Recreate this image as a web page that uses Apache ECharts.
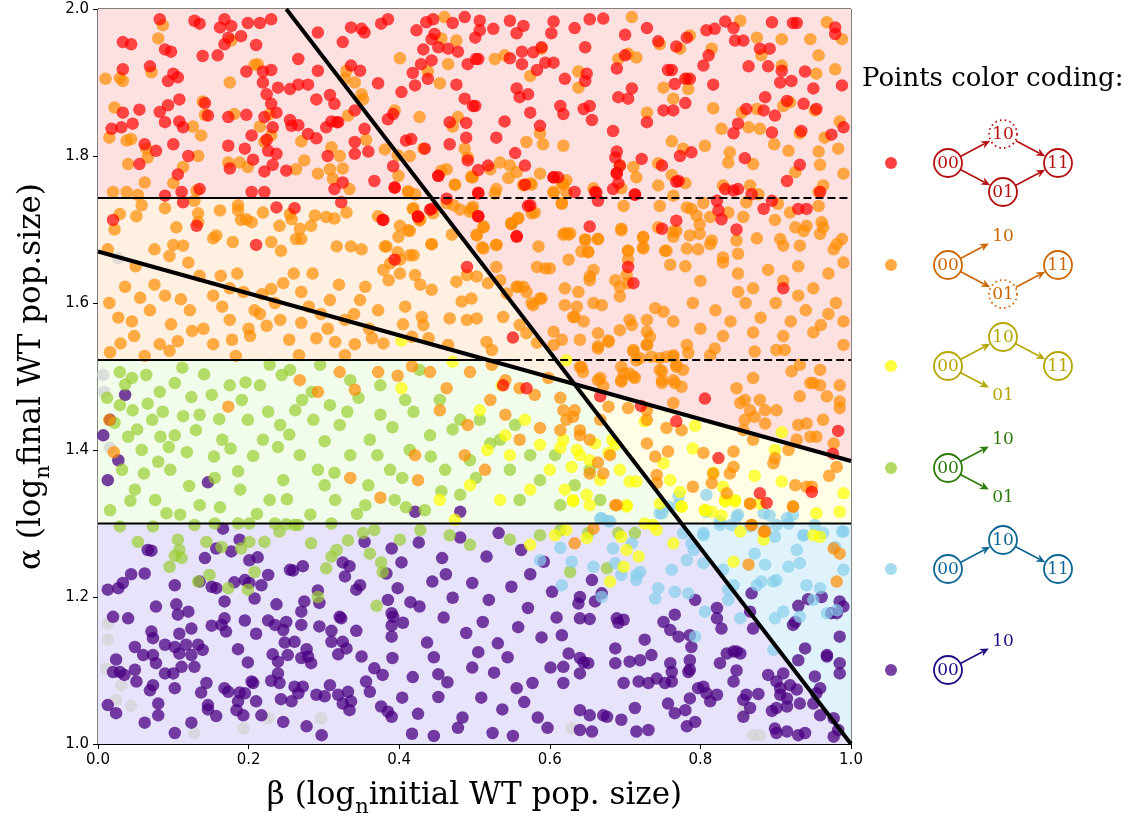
<!DOCTYPE html>
<html><head><meta charset="utf-8">
<script src="https://cdn.jsdelivr.net/npm/echarts@6/dist/echarts.min.js"></script>
<style>html,body{margin:0;padding:0;background:#fff}#c{width:1137px;height:816px}</style>
</head><body><div id="c"></div>
<script>
const xTicks=[0,0.2,0.4,0.6,0.8,1.0];
const yTicks=[1.0,1.2,1.4,1.6,1.8,2.0];
const xTitle='β (log|n|initial WT pop. size)';
const yTitle='α (log|n|final WT pop.size)';
const legendTitle='Points color coding:';

// boundary lines (β, α)
const steepLine=[[0.25,2.0],[1.0,1.0]];
const shallowLine=[[0,1.67],[1,1.385]];
const upperSolid=[[0,1.743],[0.4428,1.743]];
const upperDashed=[[0.4428,1.743],[1,1.743]];
const midSolid=[[0,1.5224],[0.55,1.5224]];
const midDashed=[[0.55,1.5224],[1,1.5224]];
const lowLine=[[0,1.3],[1,1.3]];

// shaded regions
const regPink=[[0,2],[1,2],[1,1.385],[0.6328,1.4897],[0.4428,1.743],[0,1.743]];
const regPeach=[[0,1.743],[0.4428,1.743],[0.6328,1.4897],[0.518,1.5224],[0,1.5224]];
const regGreen=[[0,1.5224],[0.518,1.5224],[0.6328,1.4897],[0.775,1.3],[0,1.3]];
const regYellow=[[0.6328,1.4897],[1,1.385],[1,1.3],[0.775,1.3]];
const regLav=[[0,1.3],[0.775,1.3],[1,1],[0,1]];
const regBlue=[[0.775,1.3],[1,1.3],[1,1]];

const redPts=[[.082,1.986],[.128,1.984],[.135,1.980],[.168,1.986],[.162,1.975],[.177,1.977],[.199,1.981],[.215,1.981],[.230,1.986],[.033,1.955],[.044,1.952],[.089,1.945],[.097,1.942],[.173,1.961],[.168,1.952],[.190,1.963],[.210,1.951],[.139,1.936],[.159,1.937],[.266,1.932],[.033,1.918],[.069,1.922],[.093,1.902],[.100,1.912],[.106,1.907],[.197,1.915],[.219,1.915],[.230,1.917],[.219,1.900],[.239,1.893],[.255,1.891],[.266,1.897],[.279,1.897],[.292,1.916],[.224,1.884],[.290,1.877],[.308,1.883],[.314,1.871],[.108,1.877],[.093,1.869],[.142,1.872],[.055,1.863],[.033,1.859],[.082,1.860],[.089,1.846],[.108,1.847],[.113,1.839],[.146,1.855],[.173,1.853],[.197,1.856],[.221,1.853],[.237,1.859],[.230,1.871],[.255,1.849],[.257,1.841],[.266,1.842],[.232,1.839],[.018,1.837],[.031,1.839],[.046,1.844],[.204,1.828],[.224,1.822],[.226,1.807],[.237,1.803],[.173,1.814],[.195,1.810],[.062,1.816],[.077,1.807],[.100,1.816],[.120,1.800],[.055,1.789],[.206,1.795],[.232,1.788],[.175,1.783],[.221,1.779],[.250,1.780],[.279,1.830],[.290,1.824],[.305,1.800],[.317,1.846],[.303,1.839],[.106,1.775],[.111,1.751],[.135,1.755],[.089,1.746],[.204,1.751],[.221,1.751],[.325,1.764],[.314,1.755],[.354,1.837],[.341,1.862],[.341,1.819],[.341,1.803],[.359,1.806],[.367,1.766],[.392,1.786],[.394,1.757],[.409,1.821],[.416,1.823],[.434,1.810],[.452,1.773],[.372,1.899],[.403,1.887],[.421,1.896],[.418,1.913],[.429,1.925],[.443,1.930],[.438,1.905],[.476,1.897],[.487,1.878],[.498,1.868],[.467,1.846],[.489,1.845],[.489,1.825],[.467,1.816],[.491,1.794],[.292,1.968],[.325,1.955],[.336,1.923],[.348,1.916],[.336,1.975],[.350,1.973],[.354,1.968],[.376,1.980],[.385,1.986],[.423,1.971],[.436,1.982],[.445,1.986],[.447,1.966],[.443,1.959],[.452,1.948],[.465,1.946],[.478,1.942],[.487,1.989],[.471,1.981],[.432,1.945],[.502,1.932],[.491,1.925],[.310,1.847],[.319,1.846],[.392,1.857],[.385,1.850],
[.020,1.713],[.131,1.705],[.113,1.737],[.237,1.730],[.261,1.729],[.378,1.713],[.425,1.718],[.443,1.728],[.323,1.737],[.210,1.679],
[.507,1.984],[.507,1.971],[.501,1.961],[.525,1.973],[.547,1.984],[.565,1.977],[.556,1.967],[.605,1.983],[.602,1.967],[.633,1.974],[.653,1.986],[.671,1.987],[.700,1.965],[.729,1.974],[.744,1.956],[.768,1.949],[.782,1.961],[.808,1.971],[.819,1.973],[.833,1.983],[.844,1.974],[.846,1.957],[.857,1.957],[.895,1.982],[.923,1.981],[.928,1.981],[.979,1.975],[.979,1.966],[.505,1.932],[.563,1.942],[.547,1.933],[.563,1.925],[.578,1.941],[.589,1.948],[.594,1.927],[.605,1.927],[.583,1.917],[.647,1.948],[.700,1.937],[.689,1.919],[.620,1.905],[.647,1.902],[.649,1.912],[.556,1.892],[.571,1.884],[.560,1.880],[.691,1.880],[.704,1.878],[.709,1.892],[.757,1.917],[.762,1.917],[.780,1.905],[.786,1.905],[.766,1.898],[.817,1.897],[.804,1.923],[.811,1.937],[.864,1.922],[.879,1.946],[.892,1.946],[.890,1.922],[.908,1.916],[.906,1.900],[.921,1.902],[.939,1.915],[.950,1.892],[.988,1.896],[.501,1.868],[.614,1.868],[.618,1.857],[.645,1.864],[.653,1.868],[.656,1.849],[.574,1.859],[.540,1.847],[.587,1.841],[.751,1.862],[.764,1.862],[.780,1.872],[.729,1.846],[.886,1.880],[.884,1.862],[.899,1.855],[.915,1.875],[.937,1.871],[.954,1.864],[.861,1.864],[.850,1.844],[.844,1.831],[.895,1.832],[.934,1.834],[.974,1.829],[.990,1.839],[.684,1.834],[.529,1.825],[.554,1.804],[.518,1.787],[.505,1.781],[.567,1.787],[.689,1.806],[.687,1.798],[.693,1.787],[.689,1.777],[.691,1.763],[.684,1.755],[.722,1.796],[.749,1.787],[.773,1.800],[.788,1.805],[.713,1.747],[.771,1.766],[.859,1.797],[.932,1.788],[.915,1.766],[.605,1.771],[.611,1.771],[.633,1.751],[.660,1.751],[.664,1.739],[.505,1.750],[.833,1.755],[.844,1.753],[.850,1.755],[.868,1.748],[.895,1.739],[.884,1.728],[.822,1.739],[.824,1.726],[.828,1.714],[.930,1.728],[.941,1.728],[.959,1.751],[.571,1.732],[.505,1.718],[.768,1.712],[.749,1.701],[.848,1.700],[.653,1.704],[.556,1.691],
[.452,1.773],[.394,1.757],[.505,1.749],[.463,1.742],[.567,1.761],[.605,1.771],[.662,1.750],[.689,1.776],[.713,1.748],[.768,1.765],[.574,1.733],[.505,1.718],[.556,1.690],[.704,1.649],[.711,1.627],[.490,1.649],[.394,1.659],[.441,1.727],[.425,1.717],[.379,1.713],[.551,1.553],[.569,1.484],[.538,1.488],
[.806,1.470],[.768,1.439],[.667,1.473],[.721,1.460],[.824,1.389],[.976,1.395],[.879,1.341],[.888,1.328],[.948,1.343],[.910,1.620],[.983,1.426]];

const orangePts=[[.086,1.978],[.080,1.960],[.177,1.957],[.010,1.905],[.029,1.906],[.033,1.902],[.071,1.914],[.175,1.900],[.212,1.925],[.208,1.924],[.022,1.866],[.015,1.825],[.038,1.821],[.044,1.823],[.064,1.810],[.066,1.798],[.040,1.789],[.126,1.840],[.137,1.828],[.139,1.874],[.142,1.856],[.181,1.857],[.215,1.840],[.228,1.857],[.230,1.828],[.221,1.819],[.270,1.820],[.310,1.812],[.321,1.800],[.173,1.791],[.188,1.791],[.199,1.785],[.263,1.782],[.274,1.794],[.292,1.776],[.308,1.782],[.325,1.783],[.312,1.769],[.334,1.755],[.062,1.764],[.100,1.763],[.113,1.785],[.133,1.800],[.020,1.751],[.038,1.751],[.053,1.747],[.131,1.753],[.330,1.916],[.328,1.905],[.341,1.900],[.350,1.884],[.352,1.877],[.332,1.855],[.356,1.822],[.381,1.809],[.398,1.801],[.414,1.800],[.432,1.810],[.401,1.933],[.427,1.853],[.454,1.899],[.465,1.925],[.476,1.957],[.460,1.989],[.456,1.960],[.438,1.915],[.478,1.853],[.471,1.840],[.487,1.810],[.491,1.798],[.496,1.771],[.474,1.761],[.463,1.782],[.456,1.780],[.412,1.751],[.421,1.748],[.394,1.862],
[.709,1.989],[.853,1.984],[.968,1.982],[.988,1.959],[.946,1.959],[.908,1.959],[.875,1.961],[.881,1.937],[.908,1.923],[.957,1.937],[.979,1.918],[.954,1.912],[.786,1.964],[.746,1.952],[.773,1.946],[.815,1.946],[.704,1.939],[.691,1.932],[.715,1.934],[.589,1.946],[.527,1.932],[.540,1.937],[.574,1.909],[.638,1.915],[.638,1.893],[.751,1.893],[.782,1.905],[.784,1.891],[.764,1.878],[.729,1.859],[.817,1.865],[.855,1.859],[.875,1.864],[.910,1.868],[.919,1.873],[.952,1.862],[.985,1.847],[.828,1.837],[.864,1.839],[.879,1.837],[.932,1.831],[.965,1.825],[.983,1.810],[.990,1.776],[.957,1.806],[.959,1.788],[.926,1.778],[.917,1.807],[.898,1.816],[.870,1.789],[.839,1.805],[.837,1.791],[.806,1.814],[.777,1.810],[.762,1.820],[.744,1.790],[.762,1.774],[.780,1.763],[.711,1.785],[.715,1.771],[.693,1.787],[.695,1.756],[.658,1.756],[.618,1.762],[.605,1.751],[.622,1.751],[.576,1.761],[.565,1.760],[.556,1.778],[.547,1.787],[.534,1.791],[.521,1.782],[.498,1.771],[.529,1.755],[.569,1.819],[.591,1.816],[.587,1.831],[.618,1.814],[.830,1.760],[.866,1.760],[.877,1.748],[.963,1.760],[.957,1.751],[.744,1.760],[.764,1.746],
[.496,1.728],[.512,1.703],[.503,1.692],[.510,1.676],[.529,1.679],[.549,1.707],[.558,1.715],[.580,1.723],[.616,1.735],[.618,1.693],[.625,1.693],[.647,1.686],[.664,1.687],[.651,1.669],[.698,1.732],[.695,1.701],[.704,1.671],[.724,1.689],[.724,1.676],[.746,1.732],[.744,1.703],[.755,1.671],[.768,1.698],[.782,1.730],[.788,1.728],[.795,1.719],[.799,1.707],[.799,1.694],[.786,1.692],[.782,1.674],[.797,1.673],[.804,1.736],[.813,1.717],[.815,1.685],[.813,1.680],[.837,1.723],[.848,1.685],[.850,1.667],[.830,1.662],[.875,1.688],[.899,1.713],[.903,1.735],[.906,1.687],[.910,1.678],[.919,1.723],[.926,1.703],[.937,1.698],[.932,1.678],[.941,1.705],[.957,1.732],[.961,1.710],[.959,1.694],[.963,1.703],[.977,1.673],[.988,1.687],[.981,1.680],[.861,1.737],[.857,1.717],
[.029,1.721],[.022,1.700],[.051,1.718],[.058,1.733],[.089,1.729],[.104,1.703],[.128,1.739],[.133,1.722],[.133,1.710],[.153,1.688],[.162,1.726],[.179,1.683],[.186,1.733],[.186,1.726],[.190,1.713],[.204,1.710],[.197,1.714],[.219,1.723],[.230,1.683],[.241,1.705],[.255,1.721],[.257,1.714],[.268,1.701],[.283,1.705],[.263,1.687],[.270,1.687],[.288,1.719],[.303,1.717],[.314,1.715],[.330,1.723],[.075,1.673],[.100,1.679],[.113,1.678],[.095,1.664],[.157,1.692],[.243,1.671],[.317,1.677],[.336,1.677],[.350,1.673],[.381,1.677],[.398,1.669],[.414,1.698],[.427,1.712],[.418,1.728],[.401,1.705],[.372,1.718],[.443,1.680],[.013,1.673],
[.379,1.645],[.386,1.631],[.401,1.640],[.421,1.638],[.428,1.625],[.443,1.618],[.476,1.629],[.496,1.606],[.518,1.627],[.529,1.649],[.534,1.631],[.543,1.613],[.503,1.636],[.490,1.638],[.483,1.602],[.467,1.579],[.430,1.581],[.432,1.570],[.408,1.595],[.405,1.571],[.379,1.545],[.417,1.554],[.439,1.552],[.465,1.543],[.490,1.577],[.503,1.579],[.516,1.547],[.523,1.536],[.538,1.581],[.560,1.570],[.569,1.559],[.583,1.546],[.589,1.606],[.576,1.600],[.558,1.622],[.565,1.622],[.569,1.615],[.399,1.690],[.412,1.699],[.383,1.677],[.414,1.665],[.419,1.665],[.443,1.680],[.470,1.693],[.503,1.693],[.512,1.704],[.529,1.679],[.512,1.674],[.401,1.659],[.388,1.654],[.494,1.724],[.481,1.727],[.463,1.736],[.472,1.733],[.419,1.729],[.412,1.752],[.399,1.773],[.428,1.714],[.445,1.722],[.558,1.716],[.549,1.709],
[.583,1.649],[.594,1.647],[.600,1.647],[.585,1.677],[.556,1.622],[.578,1.597],[.587,1.606],[.620,1.620],[.620,1.597],[.638,1.615],[.636,1.595],[.645,1.575],[.631,1.581],[.605,1.561],[.616,1.550],[.640,1.550],[.664,1.559],[.664,1.541],[.678,1.549],[.693,1.563],[.658,1.600],[.669,1.597],[.687,1.631],[.693,1.622],[.693,1.609],[.702,1.638],[.704,1.659],[.704,1.671],[.724,1.674],[.724,1.690],[.753,1.671],[.764,1.690],[.760,1.652],[.764,1.697],[.740,1.593],[.751,1.588],[.729,1.577],[.706,1.577],[.709,1.570],[.729,1.561],[.733,1.554],[.729,1.543],[.711,1.534],[.715,1.522],[.746,1.525],[.755,1.527],[.764,1.529],[.764,1.575],[.620,1.695],[.627,1.695],[.647,1.686],[.664,1.687],[.651,1.670],[.658,1.645],[.653,1.636],[.653,1.631],[.695,1.699],[.704,1.627],[.625,1.659],[.642,1.670],[.633,1.581],[.746,1.509],[.749,1.491],[.768,1.513],[.764,1.495],[.711,1.500],[.695,1.493],[.664,1.495],[.642,1.513],[.605,1.543],
[.587,1.776],[.616,1.763],[.622,1.767],[.605,1.750],[.616,1.736],[.574,1.763],[.565,1.761],[.576,1.722],[.549,1.708],[.545,1.770],[.527,1.749],[.496,1.772],[.498,1.731],[.474,1.761],
[.640,1.513],[.664,1.538],[.678,1.547],[.711,1.536],[.720,1.525],[.735,1.527],[.729,1.543],[.764,1.527],[.768,1.516],[.777,1.509],[.784,1.532],[.782,1.543],[.813,1.529],[.819,1.538],[.872,1.534],[.901,1.536],[.912,1.536],[.932,1.516],[.921,1.507],[.959,1.509],[.990,1.543],[.695,1.513],[.698,1.504],[.706,1.504],[.713,1.498],[.695,1.495],[.667,1.498],[.671,1.487],[.749,1.507],[.749,1.495],[.766,1.491],[.775,1.486],[.848,1.484],[.870,1.498],[.853,1.464],[.859,1.468],[.866,1.454],[.879,1.468],[.886,1.454],[.901,1.454],[.872,1.445],[.859,1.441],[.886,1.436],[.932,1.473],[.950,1.491],[.959,1.488],[.946,1.491],[.985,1.488],[.968,1.473],[.985,1.466],[.985,1.457],[.930,1.434],[.941,1.436],[.963,1.441],[.954,1.418],[.946,1.418],[.977,1.409],[.928,1.414],[.764,1.464],[.729,1.454],
[.618,1.454],[.622,1.441],[.631,1.445],[.640,1.427],[.640,1.420],[.678,1.459],[.704,1.457],[.729,1.441],[.755,1.430],[.775,1.427],[.729,1.409],[.740,1.391],[.757,1.398],[.804,1.396],[.844,1.398],[.844,1.377],[.839,1.368],[.817,1.368],[.897,1.382],[.899,1.389],[.917,1.400],[.870,1.414],[.857,1.427],[.653,1.368],[.664,1.383],[.671,1.368],[.687,1.325],[.742,1.366],[.742,1.355],[.790,1.350],[.815,1.355],[.835,1.341],[.866,1.327],[.923,1.323],[.926,1.352],[.941,1.350],[.948,1.350],[.971,1.365],[.981,1.377],[.868,1.298],[.884,1.289],
[.633,1.273],[.658,1.293],[.868,1.298],[.886,1.289],[.864,1.244],[.977,1.266],[.985,1.259],[.981,1.221],[.923,1.323],[.866,1.327],[.689,1.325],
[.036,1.622],[.056,1.607],[.027,1.580],[.069,1.590],[.089,1.610],[.097,1.571],[.135,1.637],[.153,1.610],[.163,1.637],[.193,1.615],[.218,1.612],[.230,1.619],[.246,1.627],[.270,1.615],[.270,1.573],[.296,1.585],[.328,1.577],[.348,1.604],[.355,1.622],[.372,1.590],[.048,1.555],[.082,1.544],[.106,1.548],[.125,1.562],[.153,1.544],[.178,1.550],[.202,1.555],[.224,1.569],[.254,1.550],[.290,1.552],[.315,1.547],[.341,1.544],[.364,1.552],[.016,1.533],[.062,1.528],[.183,1.528],[.267,1.529],[.328,1.529],[.122,1.590],[.208,1.590],[.308,1.604],[.242,1.577],[.175,1.577],
[.015,1.600],[.045,1.575],[.075,1.625],[.110,1.605],[.140,1.565],[.165,1.595],[.185,1.640],[.200,1.565],[.215,1.585],[.235,1.600],[.260,1.640],[.280,1.595],[.305,1.565],[.320,1.625],[.340,1.585],[.360,1.565],[.050,1.650],[.120,1.655],[.175,1.620],[.285,1.640],[.030,1.545],[.095,1.535],
[.268,1.495],[.292,1.479],[.321,1.506],[.341,1.482],[.372,1.506],[.398,1.501],[.417,1.514],[.441,1.506],[.463,1.484],[.494,1.506],[.523,1.516],[.541,1.495],[.560,1.484],[.454,1.454],[.491,1.434],[.521,1.468],[.541,1.448],[.580,1.475],[.598,1.498],[.614,1.471],[.644,1.506],[.633,1.454],[.614,1.427],[.587,1.430],[.560,1.414],[.653,1.414],[.667,1.441],[.680,1.393],[.514,1.373],[.487,1.393],[.421,1.393],[.375,1.335],[.335,1.362],[.425,1.359],[.173,1.459],[.015,1.441],[.021,1.397],
[.78,1.65],[.80,1.63],[.83,1.655],[.85,1.64],[.87,1.62],[.89,1.645],[.91,1.63],[.93,1.65],[.95,1.62],[.97,1.64],[.99,1.655],[.79,1.60],[.82,1.59],[.84,1.575],[.86,1.60],[.88,1.58],[.90,1.60],[.92,1.575],[.94,1.59],[.96,1.57],[.98,1.60],[.80,1.565],[.83,1.555],[.87,1.56],[.91,1.555],[.95,1.56],[.99,1.575],[.85,1.615],[.93,1.61],[.97,1.585]];

const yellowPts=[[.622,1.522],[.726,1.439],[.793,1.433],[.908,1.424],[.899,1.400],[.790,1.402],[.751,1.382],[.687,1.407],[.678,1.396],[.660,1.409],[.653,1.386],[.636,1.400],[.618,1.414],[.629,1.377],[.649,1.339],[.631,1.332],[.702,1.325],[.715,1.357],[.706,1.357],[.760,1.359],[.773,1.343],[.775,1.323],[.806,1.318],[.817,1.369],[.830,1.350],[.833,1.332],[.846,1.332],[.872,1.365],[.879,1.327],[.908,1.357],[.954,1.314],[.985,1.316],[.990,1.341],[.828,1.311],[.746,1.327],[.726,1.300],
[.631,1.330],[.702,1.323],[.718,1.255],[.702,1.264],[.698,1.241],[.680,1.221],[.764,1.273],[.622,1.291],[.649,1.280],[.844,1.248],[.884,1.278],[.950,1.284],[.959,1.282],[.853,1.289],[.815,1.316],[.833,1.330],[.846,1.330],[.775,1.323],[.806,1.318],[.742,1.291],[.737,1.298],[.695,1.282],
[.507,1.454],[.541,1.420],[.567,1.441],[.587,1.407],[.600,1.373],[.614,1.403],[.640,1.393],[.667,1.359],[.620,1.346],[.653,1.325],[.574,1.346],[.547,1.393],[.517,1.400],[.494,1.352],[.454,1.332],[.474,1.305],[.683,1.414],[.693,1.373],[.534,1.332],
[.574,1.271],[.607,1.284],[.403,1.549],[.471,1.520],[.536,1.488],[.403,1.484]];

const greenPts=[[.651,1.287],[.691,1.287],[.713,1.287],[.627,1.234],[.676,1.239],
[.029,1.296],[.053,1.275],[.073,1.296],[.106,1.278],[.108,1.264],[.102,1.256],[.111,1.253],[.095,1.241],[.128,1.298],[.144,1.275],[.148,1.230],[.133,1.221],[.164,1.268],[.190,1.266],[.201,1.275],[.221,1.275],[.208,1.234],[.173,1.212],[.199,1.210],[.241,1.289],[.250,1.299],[.266,1.298],[.283,1.273],[.292,1.200],[.303,1.239],[.310,1.255],[.317,1.264],[.332,1.277],[.352,1.287],[.361,1.259],[.376,1.247],[.378,1.234],[.367,1.291],[.370,1.188],[.310,1.300],[.155,1.300],[.186,1.300],[.201,1.300],[.235,1.300],[.261,1.298],
[.029,1.506],[.045,1.498],[.064,1.502],[.082,1.479],[.102,1.491],[.029,1.461],[.046,1.454],[.072,1.441],[.040,1.418],[.058,1.400],[.080,1.384],[.032,1.373],[.096,1.373],[.118,1.397],[.130,1.427],[.151,1.475],[.175,1.488],[.191,1.468],[.215,1.488],[.199,1.441],[.219,1.414],[.242,1.434],[.262,1.454],[.284,1.479],[.308,1.461],[.321,1.434],[.268,1.393],[.292,1.373],[.246,1.359],[.228,1.332],[.189,1.346],[.155,1.362],[.135,1.325],[.109,1.312],[.076,1.332],[.049,1.346],[.016,1.318],[.335,1.393],[.361,1.414],[.388,1.373],[.414,1.400],[.441,1.420],[.461,1.373],[.494,1.386],[.481,1.339],[.434,1.318],[.394,1.332],[.355,1.325],[.315,1.332],[.282,1.312],[.507,1.441],[.534,1.414],[.547,1.373],[.560,1.332],[.587,1.359],[.607,1.393],[.614,1.325],[.633,1.352],[.653,1.373],[.667,1.332],[.375,1.448],[.408,1.468],[.454,1.468],[.481,1.441],[.135,1.448],[.165,1.414],[.335,1.495],[.255,1.509],[.295,1.516],[.228,1.516],[.102,1.420],[.375,1.488],[.554,1.434],[.574,1.393],
[.012,1.471],[.022,1.437],[.036,1.489],[.052,1.428],[.066,1.463],[.086,1.452],[.094,1.404],[.113,1.446],[.124,1.472],[.141,1.503],[.161,1.442],[.176,1.402],[.186,1.371],[.206,1.392],[.226,1.452],[.239,1.404],[.254,1.421],[.271,1.468],[.286,1.441],[.301,1.412],[.314,1.369],[.331,1.452],[.346,1.471],[.359,1.352],[.371,1.393],[.391,1.431],[.404,1.362],[.419,1.452],[.442,1.391],[.456,1.344],[.471,1.428],[.502,1.362],[.521,1.409],[.061,1.368],[.043,1.331],[.091,1.314],[.121,1.351],[.162,1.322],[.211,1.313],[.251,1.333],[.301,1.352],[.344,1.313],[.409,1.322],[.196,1.492],[.244,1.502],[.112,1.512],[.154,1.391],[.083,1.418],
[.428,1.291],[.467,1.284],[.494,1.271],[.547,1.278],[.587,1.284],[.614,1.291],[.401,1.278],[.427,1.509]];

const bluePts=[[.667,1.307],[.678,1.303],[.749,1.314],[.757,1.323],[.771,1.325],[.804,1.284],[.788,1.273],[.791,1.264],[.684,1.266],[.709,1.273],[.629,1.248],[.658,1.241],[.687,1.246],[.695,1.230],[.715,1.230],[.715,1.223],[.720,1.234],[.762,1.237],[.782,1.250],[.804,1.246],[.830,1.237],[.837,1.210],[.744,1.212],[.740,1.198],[.766,1.207],[.784,1.205],[.806,1.180],[.853,1.171],[.837,1.196],[.844,1.216],[.793,1.146],[.866,1.296],[.886,1.291],[.901,1.298],[.915,1.307],[.923,1.312],[.952,1.298],[.963,1.287],[.937,1.284],[.990,1.289],[.872,1.259],[.886,1.244],[.928,1.264],[.917,1.241],[.932,1.246],[.979,1.268],[.990,1.237],[.875,1.216],[.881,1.221],[.897,1.221],[.901,1.223],[.941,1.216],[.959,1.212],[.950,1.196],[.910,1.180],[.899,1.171],[.932,1.173],[.981,1.182],[.968,1.178],[.897,1.128],[.669,1.200],[.616,1.216],[.826,1.303],[.850,1.312],[.884,1.314],[.808,1.316],[.777,1.287],
[.808,1.339],[.771,1.337],[.746,1.314],[.669,1.307],[.680,1.303],[.848,1.309],[.892,1.311],[.917,1.300],[.826,1.298],[.804,1.287],[.841,1.298],[.899,1.282],[.937,1.284],[.988,1.289],[.587,1.250],[.614,1.267]];

const purplePts=[[.656,1.223],[.669,1.205],[.640,1.200],[.638,1.191],[.660,1.194],[.640,1.171],[.653,1.170],[.689,1.171],[.698,1.169],[.691,1.165],[.751,1.166],[.766,1.176],[.760,1.155],[.771,1.146],[.786,1.148],[.788,1.132],[.726,1.142],[.687,1.130],[.706,1.112],[.720,1.114],[.735,1.121],[.687,1.110],[.616,1.148],[.625,1.123],[.640,1.117],[.645,1.111],[.651,1.110],[.640,1.096],[.618,1.105],[.618,1.083],[.698,1.083],[.718,1.085],[.731,1.083],[.742,1.089],[.753,1.083],[.762,1.085],[.762,1.098],[.784,1.098],[.786,1.114],[.786,1.101],[.760,1.110],[.822,1.185],[.822,1.171],[.828,1.157],[.826,1.110],[.835,1.123],[.848,1.126],[.853,1.123],[.848,1.100],[.844,1.085],[.870,1.157],[.868,1.205],[.793,1.196],[.797,1.076],[.804,1.078],[.808,1.069],[.786,1.062],[.757,1.055],[.766,1.042],[.780,1.046],[.822,1.067],[.813,1.058],[.857,1.060],[.861,1.067],[.877,1.068],[.890,1.094],[.901,1.085],[.906,1.076],[.910,1.096],[.919,1.080],[.928,1.074],[.906,1.067],[.915,1.062],[.915,1.051],[.932,1.055],[.901,1.049],[.895,1.045],[.866,1.049],[.857,1.037],[.640,1.046],[.653,1.039],[.671,1.039],[.676,1.037],[.656,1.017],[.640,1.019],[.695,1.033],[.713,1.049],[.715,1.017],[.731,1.019],[.782,1.024],[.793,1.030],[.899,1.021],[.901,1.015],[.915,1.017],[.930,1.012],[.939,1.015],[.950,1.055],[.959,1.039],[.977,1.035],[.983,1.019],[.977,1.010],[.954,1.069],[.959,1.076],[.968,1.119],[.985,1.110],[.985,1.096],[.952,1.092],[.930,1.114],[.939,1.130],[.968,1.121],[.985,1.146],[.974,1.178],[.981,1.178],[.990,1.187],[.985,1.194],[.961,1.200],[.943,1.197],[.930,1.188],[.923,1.162],[.926,1.166],[.866,1.180],[.844,1.126],
[.166,1.293],[.066,1.264],[.071,1.263],[.142,1.253],[.157,1.266],[.177,1.262],[.188,1.278],[.201,1.250],[.212,1.254],[.226,1.230],[.255,1.237],[.272,1.242],[.259,1.236],[.013,1.210],[.027,1.212],[.033,1.219],[.044,1.231],[.062,1.232],[.102,1.216],[.135,1.221],[.151,1.214],[.157,1.212],[.181,1.220],[.195,1.223],[.201,1.219],[.217,1.216],[.208,1.198],[.168,1.194],[.237,1.190],[.274,1.194],[.292,1.209],[.294,1.192],[.270,1.180],[.077,1.187],[.104,1.190],[.106,1.176],[.120,1.180],[.020,1.173],[.040,1.171],[.151,1.161],[.164,1.162],[.168,1.171],[.170,1.153],[.195,1.168],[.210,1.150],[.226,1.168],[.235,1.162],[.250,1.166],[.246,1.155],[.270,1.162],[.294,1.160],[.310,1.154],[.321,1.173],[.323,1.171],[.343,1.154],[.310,1.139],[.325,1.139],[.330,1.130],[.319,1.122],[.350,1.119],[.071,1.153],[.073,1.144],[.108,1.150],[.124,1.157],[.049,1.132],[.060,1.121],[.073,1.121],[.077,1.110],[.089,1.135],[.102,1.132],[.117,1.135],[.108,1.123],[.124,1.121],[.133,1.135],[.139,1.128],[.186,1.129],[.199,1.111],[.232,1.122],[.239,1.112],[.252,1.121],[.270,1.117],[.279,1.119],[.283,1.110],[.248,1.138],[.261,1.139],[.277,1.129],[.024,1.115],[.020,1.098],[.029,1.098],[.035,1.094],[.049,1.101],[.051,1.085],[.089,1.096],[.100,1.096],[.111,1.105],[.128,1.105],[.239,1.096],[.230,1.086],[.241,1.083],[.204,1.085],[.206,1.083],[.168,1.076],[.173,1.071],[.144,1.083],[.137,1.070],[.069,1.073],[.073,1.080],[.102,1.076],[.188,1.070],[.195,1.069],[.186,1.058],[.184,1.046],[.193,1.039],[.210,1.058],[.217,1.039],[.146,1.047],[.157,1.038],[.146,1.053],[.243,1.061],[.257,1.058],[.261,1.078],[.266,1.069],[.272,1.078],[.290,1.067],[.301,1.065],[.308,1.080],[.319,1.067],[.332,1.071],[.325,1.055],[.336,1.058],[.334,1.046],[.356,1.085],[.361,1.071],[.367,1.103],[.378,1.094],[.376,1.051],[.385,1.044],[.390,1.037],[.013,1.053],[.024,1.042],[.062,1.029],[.080,1.055],[.080,1.039],[.102,1.015],[.124,1.029],[.246,1.030],[.277,1.024],[.297,1.012],[.383,1.232],[.390,1.266],[.390,1.178],[.390,1.161],[.390,1.146],[.392,1.173],[.385,1.196],[.354,1.275],[.325,1.247],[.334,1.242],[.328,1.228],[.348,1.216],[.343,1.210],
[.016,1.441],[.007,1.420],[.027,1.386],[.036,1.475],[.013,1.359],[.146,1.356],[.481,1.316],[.421,1.316],
[.403,1.247],[.426,1.274],[.457,1.253],[.481,1.281],[.516,1.255],[.532,1.287],[.562,1.264],[.592,1.248],[.398,1.212],[.415,1.193],[.444,1.221],[.471,1.199],[.497,1.219],[.519,1.196],[.549,1.214],[.571,1.185],[.603,1.207],[.405,1.165],[.437,1.138],[.459,1.172],[.489,1.151],[.511,1.166],[.531,1.137],[.558,1.159],[.589,1.145],[.609,1.172],[.391,1.117],[.418,1.091],[.446,1.118],[.464,1.084],[.497,1.104],[.526,1.097],[.544,1.118],[.577,1.083],[.601,1.104],[.404,1.063],[.425,1.041],[.452,1.064],[.484,1.036],[.509,1.063],[.537,1.047],[.566,1.057],[.584,1.036],[.417,1.014],[.446,1.011],[.478,1.022],[.524,1.015],[.551,1.011],[.597,1.022],[.427,1.187],[.462,1.231],[.505,1.125],[.574,1.231],[.452,1.095],[.556,1.076]];

const greyPts=[[.629,1.021],[.870,1.012],[.879,1.012],[.981,1.015],[.857,1.044],[.013,1.164],[.013,1.142],[.011,1.102],[.031,1.080],[.024,1.060],[.044,1.052],[.128,1.015],[.193,1.021],[.226,1.035],[.296,1.035],[.007,1.502],[.008,1.479],[.016,1.403],[.027,1.661]];

const seriesDefs=[
 {name:'grey',data:greyPts,color:'#d3d3d3'},
 {name:'purple',data:purplePts,color:'#4b0082'},
 {name:'green',data:greenPts,color:'#9acd32'},
 {name:'blue',data:bluePts,color:'#87ceeb'},
 {name:'yellow',data:yellowPts,color:'#ffff00'},
 {name:'orange',data:orangePts,color:'#ff8c00'},
 {name:'red',data:redPts,color:'#ff0000'}
];

const regions=[
 {pts:regPink,fill:'#fde1e1'},{pts:regPeach,fill:'#fff0e2'},{pts:regGreen,fill:'#f1fdea'},
 {pts:regYellow,fill:'#fffde6'},{pts:regLav,fill:'#e6e3fb'},{pts:regBlue,fill:'#e0f3fc'}
];

const chart=echarts.init(document.getElementById('c'),null,{renderer:'canvas'});

function richName(s){const p=s.split('|');return '{m|'+p[0]+'}{s|'+p[1]+'}{m|'+p[2]+'}';}
const SERIF="'DejaVu Serif', serif";
const nameStyle={color:'#000',fontFamily:SERIF,fontSize:31,lineHeight:44,fontWeight:'normal',
 rich:{m:{fontFamily:SERIF,fontSize:31,lineHeight:44,color:'#000',fontWeight:'normal'},
       s:{fontFamily:SERIF,fontSize:21,lineHeight:21,verticalAlign:'bottom',color:'#000',fontWeight:'normal'}}};

// legend diagrams
const LX0=948, LDX=55, LDY=29, DOTX=891, R=14;
const legendRows=[
 {y:163,dot:'#ff0000',ink:'#b30f0f',nodes:{'00':'c','10':'d','01':'c','11':'c'},edges:[['00','10'],['00','01'],['10','11'],['01','11']]},
 {y:265,dot:'#ff8c00',ink:'#cc6600',nodes:{'00':'c','10':'p','01':'d','11':'c'},edges:[['00','10'],['00','01'],['01','11']]},
 {y:366,dot:'#ffff00',ink:'#b5a600',nodes:{'00':'c','10':'c','01':'p','11':'c'},edges:[['00','10'],['10','11'],['00','01']]},
 {y:468,dot:'#9acd32',ink:'#2d7a0a',nodes:{'00':'c','10':'p','01':'p'},edges:[['00','10'],['00','01']]},
 {y:569,dot:'#87ceeb',ink:'#0d6594',nodes:{'00':'c','10':'c','11':'c'},edges:[['00','10'],['10','11']]},
 {y:670,dot:'#4b0082',ink:'#1b0e85',nodes:{'00':'c','10':'p'},edges:[['00','10']]}
];
const slot={'00':[0,0],'10':[1,-1],'01':[1,1],'11':[2,0]};
const gfx=[];
gfx.push({type:'text',left:862,top:66,style:{text:legendTitle,font:'26px "DejaVu Serif"',fill:'#000'}});
legendRows.forEach(row=>{
 gfx.push({type:'circle',shape:{cx:DOTX,cy:row.y,r:6},style:{fill:row.dot,opacity:0.75}});
 const pos=k=>[LX0+slot[k][0]*LDX,row.y+slot[k][1]*LDY];
 Object.keys(row.nodes).forEach(k=>{
  const [x,y]=pos(k), t=row.nodes[k];
  if(t!=='p'){
   gfx.push({type:'circle',shape:{cx:x,cy:y,r:R},style:{fill:'none',stroke:row.ink,lineWidth:1.8,lineDash:t==='d'?[1.6,3.2]:null}});
  }
  gfx.push({type:'text',x:x,y:y+1,style:{text:k,font:'17px "DejaVu Serif"',fill:row.ink,textAlign:'center',textVerticalAlign:'middle',align:'center',verticalAlign:'middle'}});
 });
 row.edges.forEach(e=>{
  const [x1,y1]=pos(e[0]),[x2,y2]=pos(e[1]);
  const r1=R+0.5, r2=row.nodes[e[1]]==='p'?16:R+0.5;
  const dx=x2-x1,dy=y2-y1,L=Math.hypot(dx,dy),ux=dx/L,uy=dy/L;
  const sx=x1+ux*r1,sy=y1+uy*r1,ex=x2-ux*r2,ey=y2-uy*r2;
  const hl=9,hw=4;
  const bx=ex-ux*hl,by=ey-uy*hl;
  gfx.push({type:'line',shape:{x1:sx,y1:sy,x2:bx+ux*2,y2:by+uy*2},style:{stroke:row.ink,lineWidth:1.6}});
  gfx.push({type:'polygon',shape:{points:[[ex,ey],[bx-uy*hw,by+ux*hw],[bx+ux*2.5,by+uy*2.5],[bx+uy*hw,by-ux*hw]]},style:{fill:row.ink}});
 });
});

const lineSer=(data,w,dash)=>({type:'line',data:data,symbol:'none',silent:true,z:5,
 lineStyle:{color:'#000',width:w,type:dash?[8,4]:'solid'},animation:false});

const option={
 animation:false,
 backgroundColor:'#fff',
 grid:{left:98,right:286,top:9,bottom:72,show:true,borderColor:'#000',borderWidth:1,backgroundColor:'transparent',containLabel:false,outerBoundsMode:'none'},
 xAxis:{type:'value',min:0,max:1,interval:0.2,
  axisLine:{show:true,onZero:false,lineStyle:{color:'#000',width:1}},
  axisTick:{show:true,length:5,lineStyle:{color:'#000'}},
  axisLabel:{color:'#000',fontFamily:'DejaVu Sans',fontSize:15,margin:9,formatter:v=>v.toFixed(1)},
  splitLine:{show:false},
  name:richName(xTitle),nameLocation:'middle',nameGap:30,nameTextStyle:nameStyle},
 yAxis:{type:'value',min:1,max:2,interval:0.2,
  axisLine:{show:true,onZero:false,lineStyle:{color:'#000',width:1}},
  axisTick:{show:true,length:5,lineStyle:{color:'#000'}},
  axisLabel:{color:'#000',fontFamily:'DejaVu Sans',fontSize:15,margin:9,formatter:v=>v.toFixed(1)},
  splitLine:{show:false},
  name:richName(yTitle),nameLocation:'middle',nameGap:33,nameRotate:90,nameTextStyle:nameStyle},
 series:[
  {type:'custom',silent:true,z:1,clip:false,
   data:regions.map((r,i)=>[0.5,1.5,i]),
   renderItem:(params,api)=>{
     const r=regions[params.dataIndex];
     return {type:'polygon',shape:{points:r.pts.map(p=>api.coord(p))},style:{fill:r.fill}};
   }},
  ...seriesDefs.map(s=>({type:'scatter',name:s.name,data:s.data,symbolSize:12.5,silent:true,z:2,
     itemStyle:{color:s.color,opacity:s.name==='purple'?0.75:0.7}})),
  lineSer(steepLine,4),lineSer(shallowLine,4),
  lineSer(upperSolid,2),lineSer(upperDashed,2,true),
  lineSer(midSolid,2),lineSer(midDashed,2,true),
  lineSer(lowLine,2)
 ],
 graphic:gfx
};
chart.setOption(option);
</script>
</body></html>
